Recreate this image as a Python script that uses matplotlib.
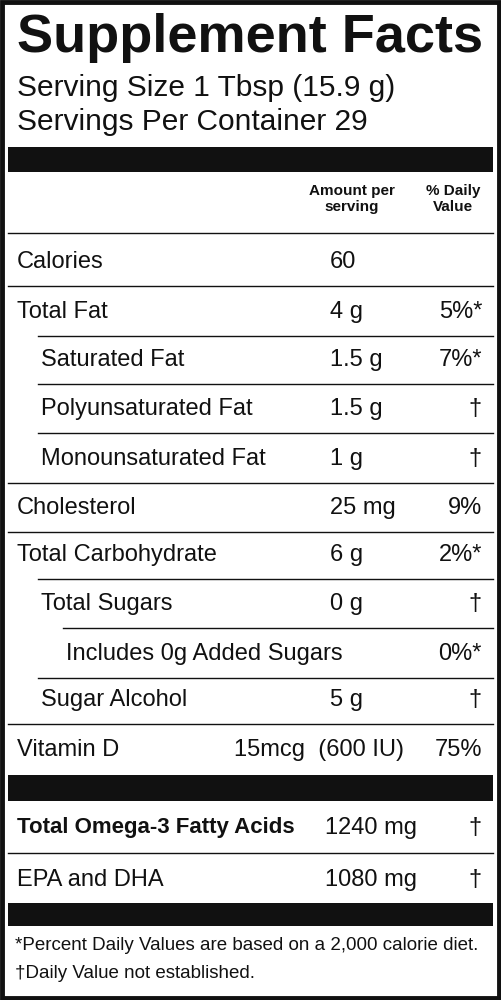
import matplotlib
matplotlib.use("Agg")
import matplotlib.pyplot as plt
from matplotlib.patches import Rectangle

FONT = ["Liberation Sans Narrow", "Liberation Sans", "DejaVu Sans"]
plt.rcParams["font.family"] = FONT

# rows: label, amount, %DV, indent level
labels = ["Calories", "Total Fat", "Saturated Fat", "Polyunsaturated Fat",
          "Monounsaturated Fat", "Cholesterol", "Total Carbohydrate",
          "Total Sugars", "Includes 0g Added Sugars", "Sugar Alcohol"]
amounts = ["60", "4 g", "1.5 g", "1.5 g", "1 g", "25 mg", "6 g", "0 g", "", "5 g"]
dv = ["", "5%*", "7%*", "†", "†", "9%", "2%*", "†", "0%*", "†"]
indent = [0, 0, 1, 1, 1, 0, 0, 1, 2, 1]
row_y = [262, 312, 360, 409, 459, 508, 555, 604, 654, 700]

omega_labels = ["Total Omega-3 Fatty Acids", "EPA and DHA"]
omega_amounts = ["1240 mg", "1080 mg"]
omega_dv = ["†", "†"]
omega_bold = [True, False]
omega_y = [828, 880]

footnotes = ["*Percent Daily Values are based on a 2,000 calorie diet.",
             "†Daily Value not established."]

fig = plt.figure(figsize=(5.01, 10), dpi=100)
ax = fig.add_axes([0, 0, 1, 1])
ax.set_xlim(0, 501)
ax.set_ylim(1000, 0)
ax.axis("off")

K = "#111111"
FS = 17
ax.add_patch(Rectangle((2, 2), 497, 996, fill=False, lw=3.5, ec=K))

def bar(y0, y1):
    ax.add_patch(Rectangle((8, y0), 485, y1 - y0, color=K, lw=0))

def hline(y, x0):
    ax.plot([x0, 493], [y, y], color=K, lw=1.0)

ax.text(250, 38, "Supplement Facts", fontsize=39, fontweight="bold",
        ha="center", va="center", color=K)
ax.text(17, 88, "Serving Size 1 Tbsp (15.9 g)", fontsize=21.5, va="center", color=K)
ax.text(17, 122, "Servings Per Container 29", fontsize=21.5, va="center", color=K)
bar(147, 172)

ax.text(352, 199, "Amount per\nserving", fontsize=11, fontweight="bold",
        ha="center", va="center", linespacing=1.1, color=K)
ax.text(453, 199, "% Daily\nValue", fontsize=11, fontweight="bold",
        ha="center", va="center", linespacing=1.1, color=K)
hline(233, 8)

xs = [17, 41, 66]
for i, (lab, am, d, ind, y) in enumerate(zip(labels, amounts, dv, indent, row_y)):
    ax.text(xs[ind], y, lab, fontsize=FS, va="center", color=K)
    ax.text(330, y, am, fontsize=FS, va="center", color=K)
    ax.text(482, y, d, fontsize=FS, va="center", ha="right", color=K)
    if i + 1 < len(labels):
        hline(y + 24, 8 if indent[i + 1] == 0 else xs[indent[i + 1]] - 3)
hline(724, 8)

ax.text(17, 750, "Vitamin D", fontsize=FS, va="center", color=K)
ax.text(404, 750, "15mcg  (600 IU)", fontsize=FS, va="center", ha="right", color=K)
ax.text(482, 750, "75%", fontsize=FS, va="center", ha="right", color=K)
bar(775, 801)

for i, (lab, am, d, b, y) in enumerate(zip(omega_labels, omega_amounts, omega_dv,
                                          omega_bold, omega_y)):
    ax.text(17, y, lab, fontsize=16 if b else FS, va="center", color=K,
            fontweight="bold" if b else "normal")
    ax.text(325, y, am, fontsize=FS, va="center", color=K)
    ax.text(482, y, d, fontsize=FS, va="center", ha="right", color=K)
    if i == 0:
        hline(y + 25, 8)
bar(903, 926)

ax.text(15, 945, footnotes[0], fontsize=13.5, va="center", color=K)
ax.text(15, 973, footnotes[1], fontsize=13.5, va="center", color=K)

fig.savefig("out.png", dpi=100)
